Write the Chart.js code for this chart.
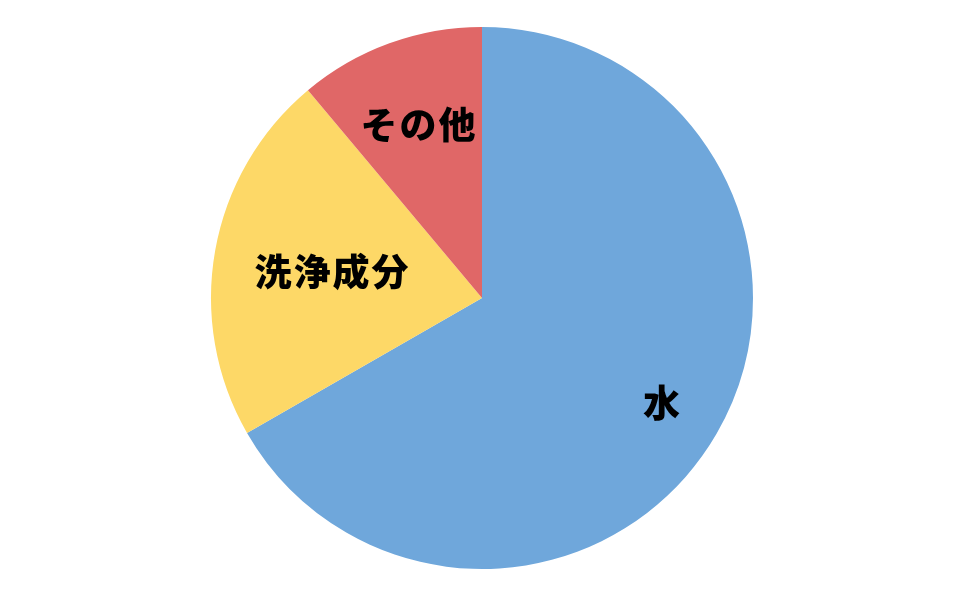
<!DOCTYPE html>
<html>
<head>
<meta charset="utf-8">
<script src="https://cdn.jsdelivr.net/npm/chart.js@4"></script>
<style>
  html, body { margin: 0; padding: 0; background: #fff; }
  #wrap { width: 960px; height: 590px; }
</style>
</head>
<body>
<div id="wrap"><canvas id="pieChart"></canvas></div>
<script>
// --- Data ---
const labels = ["水", "洗浄成分", "その他"];
const values = [66.7, 22.2, 11.1];
const colors = ["#6FA7DB", "#FDD867", "#E06767"];

// how far out (fraction of radius) each label sits
const labelDist = [0.77, 0.56, 0.68];

// --- Label plugin ---
const sliceLabels = {
  id: "sliceLabels",
  afterDatasetsDraw(chart) {
    const ctx = chart.ctx;
    const meta = chart.getDatasetMeta(0);
    ctx.save();
    ctx.fillStyle = "#000";
    ctx.font = "900 37px 'Noto Sans CJK JP'";
    ctx.letterSpacing = "2px";
    ctx.textAlign = "center";
    ctx.textBaseline = "middle";
    meta.data.forEach((arc, i) => {
      const mid = (arc.startAngle + arc.endAngle) / 2;
      const d = arc.outerRadius * labelDist[i];
      const x = arc.x + Math.cos(mid) * d;
      const y = arc.y + Math.sin(mid) * d;
      ctx.fillText(labels[i], x, y);
    });
    ctx.restore();
  },
};

new Chart(document.getElementById("pieChart"), {
  type: "pie",
  data: {
    labels: labels,
    datasets: [{
      data: values,
      backgroundColor: colors,
      borderWidth: 0,
    }],
  },
  options: {
    responsive: true,
    maintainAspectRatio: false,
    animation: false,
    layout: { padding: { top: 27, bottom: 21, left: 4, right: 0 } },
    plugins: {
      legend: { display: false },
      tooltip: { enabled: false },
    },
  },
  plugins: [sliceLabels],
});
</script>
</body>
</html>
